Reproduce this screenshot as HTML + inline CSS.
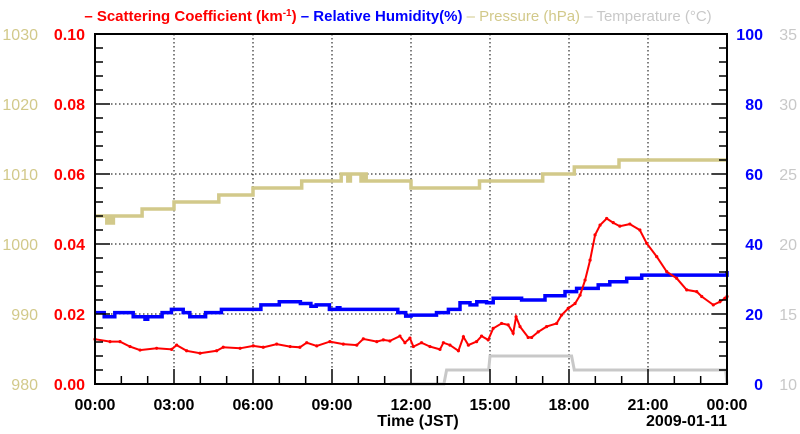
<!DOCTYPE html>
<html><head><meta charset="utf-8"><style>
html,body{margin:0;padding:0;background:#fff;}
svg{display:block;font-family:"Liberation Sans",Arial,sans-serif;}
</style></head><body>
<svg id="chart" width="800" height="434" viewBox="0 0 800 434">
<g id="grid"></g>
<g id="series"></g>
<g id="axes"></g>
<text x="398" y="21" text-anchor="middle" font-size="15" font-weight="bold"><tspan fill="#ff0000">– Scattering Coefficient (km<tspan dy="-5" font-size="10">-1</tspan><tspan dy="5">) </tspan></tspan><tspan fill="#0000ff">– Relative Humidity(%) </tspan><tspan fill="#d2c98a" font-weight="normal">– Pressure (hPa) </tspan><tspan fill="#c8c8c8" font-weight="normal">– Temperature (°C)</tspan></text>
<text x="418" y="426" text-anchor="middle" font-size="16" font-weight="bold">Time (JST)</text>
<text x="727" y="426" text-anchor="end" font-size="16" font-weight="bold">2009-01-11</text>
</svg>
<script>
// ---- data ----
const xTickLabels = ["00:00","03:00","06:00","09:00","12:00","15:00","18:00","21:00","00:00"];
const scatTicks = ["0.00","0.02","0.04","0.06","0.08","0.10"];
const humTicks = ["0","20","40","60","80","100"];
const presTicks = ["980","990","1000","1010","1020","1030"];
const tempTicks = ["10","15","20","25","30","35"];

// step series: value applies from the given hour onward
const presHours = [0,0.45,0.55,0.6,0.7,1.79,3.0,4.7,6.0,7.85,9.35,9.6,9.7,10.1,10.2,10.3,12.0,14.6,17.0,18.2,19.9,24];
const presVals  = [1004,1003,1004,1003,1004,1005,1006,1007,1008,1009,1010,1009,1010,1009,1010,1009,1008,1009,1010,1011,1012,1012];

const humHours = [0,0.35,0.75,1.45,1.9,2.0,2.55,2.9,3.35,3.6,4.2,4.8,6.0,6.3,7.0,7.8,8.2,8.4,8.9,9.2,9.3,11.2,11.5,11.8,12.0,12.72,12.97,13.42,13.86,14.24,14.5,14.87,15.12,16.2,17.09,17.85,18.29,19.11,19.55,20.19,20.76,24];
const humVals  = [20.4,19.2,20.4,19.2,18.5,19.2,20.4,21.3,20.4,19.2,20.4,21.3,21.3,22.6,23.5,23.0,22.2,22.6,21.3,21.8,21.3,21.3,20.4,19.4,19.7,19.7,20.4,21.3,23.2,22.6,23.5,23.2,24.5,24.0,25.2,26.4,27.3,28.3,29.2,30.2,31.1,32.3];

const scatHours = [0,0.57,0.95,1.33,1.71,2.34,2.91,3.1,3.48,3.99,4.62,4.87,5.51,6.01,6.39,6.9,7.41,7.78,8.04,8.42,8.92,9.43,9.94,10.19,10.7,10.95,11.2,11.58,11.77,11.96,12.09,12.40,12.72,13.10,13.23,13.48,13.80,13.99,14.18,14.49,14.68,14.93,15.12,15.44,15.69,15.88,15.99,16.14,16.45,16.58,16.83,17.15,17.53,17.72,17.97,18.23,18.42,18.61,18.80,18.99,19.18,19.43,19.68,19.93,20.31,20.69,20.95,21.33,21.71,22.09,22.47,22.85,23.04,23.48,23.73,23.92,24];
const scatVals  = [0.0128,0.0121,0.0121,0.0107,0.0097,0.0102,0.0099,0.0111,0.0095,0.0088,0.0095,0.0105,0.0102,0.0109,0.0105,0.0114,0.0107,0.0105,0.0118,0.0109,0.0121,0.0114,0.0111,0.0129,0.0121,0.0126,0.0123,0.0137,0.0118,0.0131,0.0107,0.0118,0.0107,0.0099,0.0118,0.0111,0.0095,0.0135,0.0111,0.0121,0.0137,0.0126,0.0159,0.0173,0.0169,0.0145,0.0192,0.0164,0.0133,0.0133,0.0149,0.0164,0.0173,0.0197,0.0216,0.0230,0.0254,0.0297,0.0354,0.0426,0.0454,0.0473,0.0461,0.0451,0.0457,0.0440,0.0402,0.0364,0.0321,0.0302,0.0269,0.0264,0.0250,0.0226,0.0235,0.0245,0.0250];

const tempHours = [11.2,13.25,13.35,14.95,15.0,18.1,18.2,23.95,24];
const tempVals  = [10,10,11,11,12,12,11,11,10];

// ---- axes ----
const L=95,R=727,T=34,B=384;
const NS="http://www.w3.org/2000/svg";
const xS = h => L + h/24*(R-L);
const yScat = v => B - v/0.1*(B-T);
const yHum = v => B - v/100*(B-T);
const yPres = v => B - (v-980)/50*(B-T);
const yTemp = v => B - (v-10)/25*(B-T);

function mk(tag, attrs, parent){
  const e=document.createElementNS(NS,tag);
  for(const k in attrs) e.setAttribute(k,attrs[k]);
  parent.appendChild(e); return e;
}
const grid=document.getElementById('grid'), ser=document.getElementById('series'), ax=document.getElementById('axes');

for(let i=1;i<8;i++){
  const x=xS(i*3);
  const g=mk('line',{x1:x,x2:x,y1:T,y2:B,stroke:'#000','stroke-width':1,'stroke-dasharray':'1.5,2.5'},grid);
  
  
}
for(let i=1;i<5;i++){
  const y=yScat(i*0.02);
  const g=mk('line',{x1:L,x2:R,y1:y,y2:y,stroke:'#000','stroke-width':1,'stroke-dasharray':'1.5,2.5'},grid);
  
  
}

function pathLine(d, color, w, name){
  const p=mk('path',{d:d,fill:'none',stroke:color,'stroke-width':w,'stroke-linejoin':'miter'},ser);
  
  
}
function line(hours, vals, ys){
  return hours.map((h,i)=>(i?'L':'M')+xS(h).toFixed(1)+','+ys(vals[i]).toFixed(1)).join('');
}
function step(hours, vals, ys){
  let d='M'+xS(hours[0]).toFixed(1)+','+ys(vals[0]).toFixed(1);
  for(let i=1;i<hours.length;i++){
    d+='L'+xS(hours[i]).toFixed(1)+','+ys(vals[i-1]).toFixed(1);
    d+='L'+xS(hours[i]).toFixed(1)+','+ys(vals[i]).toFixed(1);
  }
  return d;
}
pathLine(line(tempHours,tempVals,yTemp),'#c8c8c8',3,'temperature-line');
pathLine(step(presHours,presVals,yPres),'#d2c98a',3.5,'pressure-line');
pathLine(step(humHours,humVals,yHum),'#0000ff',3.5,'humidity-line');
pathLine(line(scatHours,scatVals,yScat),'#ff0000',2,'scattering-line');
scatHours.forEach((h,i)=>{
  const c=mk('circle',{cx:xS(h),cy:yScat(scatVals[i]),r:1.6,fill:'#ff0000'},ser);
  
  
});

const fr=mk('rect',{x:L,y:T,width:R-L,height:B-T,fill:'none',stroke:'#000','stroke-width':2},ax);


for(let h=0;h<=24;h++){
  const x=xS(h), len=(h%3==0)?15:8;
  const t=mk('line',{x1:x,x2:x,y1:B,y2:B-len,stroke:'#000','stroke-width':1.5},ax);
  
  
}
xTickLabels.forEach((s,i)=>{
  const t=mk('text',{x:xS(i*3),y:410,'text-anchor':'middle','font-size':16,'font-weight':'bold',fill:'#000'},ax);
  t.textContent=s;
  
  
});
for(let i=0;i<=25;i++){
  const y=B-i*(B-T)/25, len=(i%5==0)?15:8;
  const a=mk('line',{x1:L,x2:L+len,y1:y,y2:y,stroke:'#000','stroke-width':1.5},ax);
  
  
  const b=mk('line',{x1:R,x2:R-len,y1:y,y2:y,stroke:'#000','stroke-width':1.5},ax);
  
  
}
function labels(arr, x, anchor, color, bold, name){
  arr.forEach((s,i)=>{
    const y=B-i*(B-T)/5+6;
    const t=mk('text',{x:x,y:y,'text-anchor':anchor,'font-size':16,'font-weight':bold?'bold':'normal',fill:color},ax);
    t.textContent=s;
    
    
  });
}
labels(presTicks,38,'end','#d2c98a',false,'pressure-tick-label');
labels(scatTicks,85,'end','#ff0000',true,'scattering-tick-label');
labels(humTicks,763,'end','#0000ff',true,'humidity-tick-label');
labels(tempTicks,797,'end','#c8c8c8',false,'temperature-tick-label');
</script>
</body></html>
